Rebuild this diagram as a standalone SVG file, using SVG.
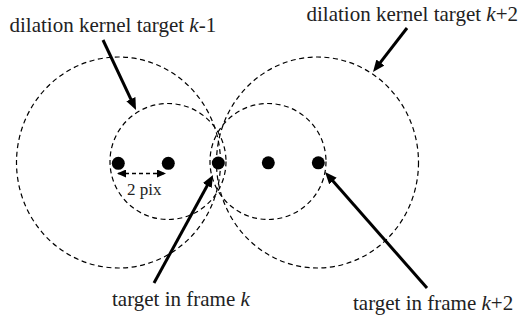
<svg xmlns="http://www.w3.org/2000/svg" width="519" height="321" viewBox="0 0 519 321">
<defs>
<style>
.ring{fill:none;stroke:#000;stroke-width:1.2;stroke-dasharray:5 3.5}
.dot{fill:#000}
.arr{stroke:#000;stroke-width:3;fill:none;marker-end:url(#ah)}
.dbl{stroke:#000;stroke-width:1.5;stroke-dasharray:4 3;fill:none;marker-start:url(#sh);marker-end:url(#sh)}
text{font-family:"Liberation Serif","Times New Roman",serif;font-size:21px;fill:#222}
.small{font-size:17px}
</style>
<marker id="ah" viewBox="0 0 12 10" refX="4" refY="5" markerWidth="12" markerHeight="10" markerUnits="userSpaceOnUse" orient="auto">
<path d="M0,0 L12,5 L0,10 z" fill="#000"/>
</marker>
<marker id="sh" viewBox="0 0 9 8" refX="8" refY="4" markerWidth="9" markerHeight="8" markerUnits="userSpaceOnUse" orient="auto-start-reverse">
<path d="M0,0 L9,4 L0,8 z" fill="#000"/>
</marker>
</defs>
<rect width="519" height="321" fill="#fff"/>
<g id="kernel-k-1">
<ellipse class="ring" cx="118.5" cy="162.5" rx="102" ry="105.5"/>
<circle class="ring" cx="168" cy="161.5" r="58"/>
</g>
<g id="kernel-k+2">
<ellipse class="ring" cx="317.5" cy="162.5" rx="101" ry="105.5"/>
<circle class="ring" cx="268" cy="161.5" r="58"/>
</g>
<g id="targets">
<circle class="dot" cx="118.3" cy="163.3" r="6.5"/>
<circle class="dot" cx="168.3" cy="163.3" r="6.5"/>
<circle class="dot" cx="218.3" cy="163" r="6.5"/>
<circle class="dot" cx="268.3" cy="162.8" r="6.5"/>
<circle class="dot" cx="318.3" cy="162.8" r="6.5"/>
</g>
<g id="connectors">
<line class="arr" x1="103" y1="40" x2="132.6" y2="102.8"/>
<line class="arr" x1="407" y1="28" x2="377.9" y2="65.7"/>
<line class="arr" x1="154" y1="283" x2="209.2" y2="182"/>
<line class="arr" x1="427" y1="288" x2="330.3" y2="178"/>
<line class="dbl" x1="118" y1="173.5" x2="165" y2="173.5"/>
</g>
<g id="labels">
<text x="9.5" y="32">dilation kernel target <tspan font-style="italic">k</tspan>-1</text>
<text x="306.5" y="21">dilation kernel target <tspan font-style="italic">k</tspan>+2</text>
<text x="112" y="306">target in frame <tspan font-style="italic">k</tspan></text>
<text x="353" y="310">target in frame <tspan font-style="italic">k</tspan>+2</text>
<text class="small" x="127" y="195">2 pix</text>
</g>
</svg>
